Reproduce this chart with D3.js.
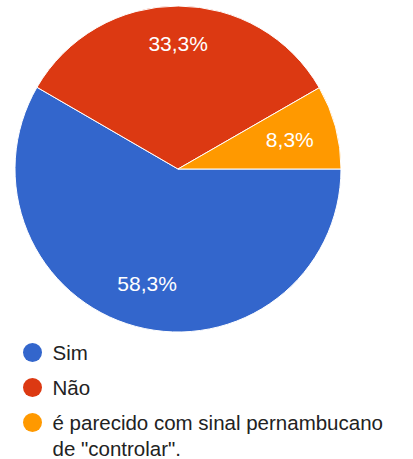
<!DOCTYPE html>
<html>
<head>
<meta charset="utf-8">
<script src="https://cdn.jsdelivr.net/npm/d3@7"></script>
<style>
  body { margin: 0; background: #fff; }
  svg { display: block; font-family: Arial, "Liberation Sans", sans-serif; }
</style>
</head>
<body>
<svg width="413" height="459"></svg>
<script>
// Data
const categories = ["Sim", "Não", "é parecido com sinal pernambucano de \"controlar\"."];
const values = [58.3, 33.3, 8.3];
const valueLabels = ["58,3%", "33,3%", "8,3%"];
const colors = ["#3366cc", "#dc3912", "#ff9900"];

const svg = d3.select("svg");

const cx = 178, cy = 169, radius = 163;
// label distance from centre, as share of radius, per slice
const labelPos = [0.73, 0.77, 0.71];

const pie = d3.pie()
    .sort(null)
    .startAngle(Math.PI / 2)
    .endAngle(Math.PI / 2 + 2 * Math.PI)
    .value(d => d);

const arcs = pie(values);

const arc = d3.arc().innerRadius(0).outerRadius(radius);

const g = svg.append("g").attr("transform", `translate(${cx},${cy})`);

g.selectAll("path")
    .data(arcs)
  .enter().append("path")
    .attr("d", arc)
    .attr("fill", (d, i) => colors[i])
    .attr("stroke", "#fff")
    .attr("stroke-width", 1);

g.selectAll("text.pct")
    .data(arcs)
  .enter().append("text")
    .attr("class", "pct")
    .attr("transform", (d, i) => {
        const r = radius * labelPos[i];
        const c = d3.arc().innerRadius(r).outerRadius(r).centroid(d);
        return `translate(${c[0]},${c[1]})`;
    })
    .attr("dy", "0.36em")
    .attr("text-anchor", "middle")
    .attr("fill", "#fff")
    .style("font-size", "21px")
    .text((d, i) => valueLabels[i]);

// Legend
const legend = svg.append("g").attr("transform", "translate(32.5,360)");
const lines = [["Sim"], ["Não"], ["é parecido com sinal pernambucano", "de \"controlar\"."]];
let yPos = 0;
lines.forEach((ls, i) => {
    legend.append("circle")
        .attr("cx", 0)
        .attr("cy", yPos - 7.5)
        .attr("r", 9.5)
        .attr("fill", colors[i]);
    ls.forEach((t, j) => {
        legend.append("text")
            .attr("x", 20)
            .attr("y", yPos + j * 26)
            .attr("fill", "#222")
            .style("font-size", "20.5px")
            .text(t);
    });
    yPos += 35;
});
</script>
</body>
</html>
